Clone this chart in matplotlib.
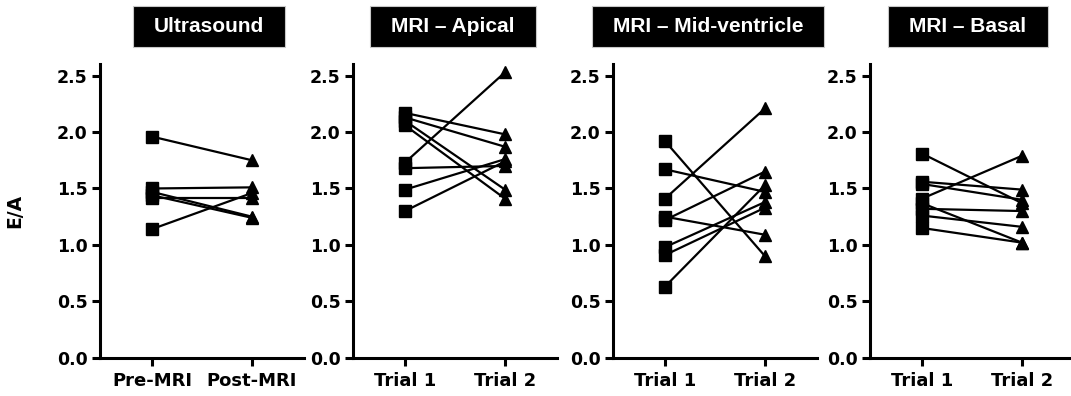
import matplotlib
matplotlib.use("Agg")
import matplotlib.pyplot as plt
from matplotlib.patches import Rectangle

plt.rcParams['font.family'] = ['DejaVu Sans']
plt.rcParams['font.weight'] = 'bold'

# E/A ratios per subject, first and second measurement
titles = ["Ultrasound", "MRI – Apical", "MRI – Mid-ventricle", "MRI – Basal"]
xlabels = [["Pre-MRI", "Post-MRI"], ["Trial 1", "Trial 2"],
           ["Trial 1", "Trial 2"], ["Trial 1", "Trial 2"]]
ytick_vals = [0.0, 0.5, 1.0, 1.5, 2.0, 2.5]
ytick_labels = ["0.0", "0.5", "1.0", "1.5", "2.0", "2.5"]

us_pre = [1.96, 1.50, 1.47, 1.44, 1.42, 1.14]
us_post = [1.75, 1.51, 1.25, 1.24, 1.42, 1.46]

apical_t1 = [2.17, 2.13, 2.10, 2.06, 1.73, 1.68, 1.49, 1.30]
apical_t2 = [1.98, 1.87, 1.49, 1.41, 2.53, 1.70, 1.76, 1.74]

mid_t1 = [1.92, 1.67, 1.41, 1.25, 1.22, 0.98, 0.91, 0.63]
mid_t2 = [0.90, 1.47, 2.21, 1.09, 1.65, 1.38, 1.33, 1.53]

basal_t1 = [1.81, 1.56, 1.54, 1.41, 1.37, 1.32, 1.26, 1.15]
basal_t2 = [1.37, 1.49, 1.40, 1.79, 1.02, 1.30, 1.16, 1.02]

panels = [(us_pre, us_post), (apical_t1, apical_t2),
          (mid_t1, mid_t2), (basal_t1, basal_t2)]

W, H = 1071, 396
fig = plt.figure(figsize=(W / 100, H / 100), dpi=100)

lefts = [100, 353, 613, 870]
title_centers = [209, 453, 708, 968]
ax_w = 204
y0_px = 357.7
y_top_px = 64.4

title_texts = []
for i, (left, (a, b)) in enumerate(zip(lefts, panels)):
    ax = fig.add_axes([left / W, (H - y0_px) / H, ax_w / W, (y0_px - y_top_px) / H])
    for va, vb in zip(a, b):
        ax.plot([0, 1], [va, vb], color='black', lw=1.6, zorder=2)
    ax.plot([0] * len(a), a, ls='none', marker='s', ms=8.3, color='black', zorder=3)
    ax.plot([1] * len(b), b, ls='none', marker='^', ms=8.3, color='black', zorder=3)

    ax.set_xlim(-0.52, 1.52)
    ax.set_ylim(0, 2.6)
    ax.set_xticks([0, 1])
    ax.set_xticklabels(xlabels[i], fontsize=13, fontweight='bold')
    ax.set_yticks(ytick_vals)
    ax.set_yticklabels(ytick_labels, fontsize=12.5, fontweight='bold')
    for s in ['top', 'right']:
        ax.spines[s].set_visible(False)
    for s in ['left', 'bottom']:
        ax.spines[s].set_linewidth(2.2)
    ax.tick_params(axis='both', direction='out', width=2.2, length=5.5)
    ax.tick_params(axis='y', pad=3.5)
    ax.tick_params(axis='x', pad=5)

    if i == 0:
        ax.set_ylabel("E/A", fontsize=13.5, fontweight='bold')
        ax.yaxis.set_label_coords((24 - left) / ax_w, 0.5)

    t = fig.text(title_centers[i] / W, 1 - 27 / H, titles[i], ha='center', va='center',
                 color='white', fontsize=15, fontweight='bold',
                 family=['Liberation Sans', 'DejaVu Sans'], zorder=5)
    title_texts.append(t)

# black label boxes behind each panel title
fig.canvas.draw()
renderer = fig.canvas.get_renderer()
for t in title_texts:
    bb = t.get_window_extent(renderer)
    cx = (bb.x0 + bb.x1) / 2
    bw = bb.width + 42
    bh = 41
    cy = H - 26.5
    fig.patches.append(Rectangle(((cx - bw / 2) / W, (cy - bh / 2) / H), bw / W, bh / H,
                                 transform=fig.transFigure, facecolor='black',
                                 edgecolor='#c8c8c8', lw=0.8, zorder=4))

fig.savefig("out.png", dpi=100, facecolor='white')
